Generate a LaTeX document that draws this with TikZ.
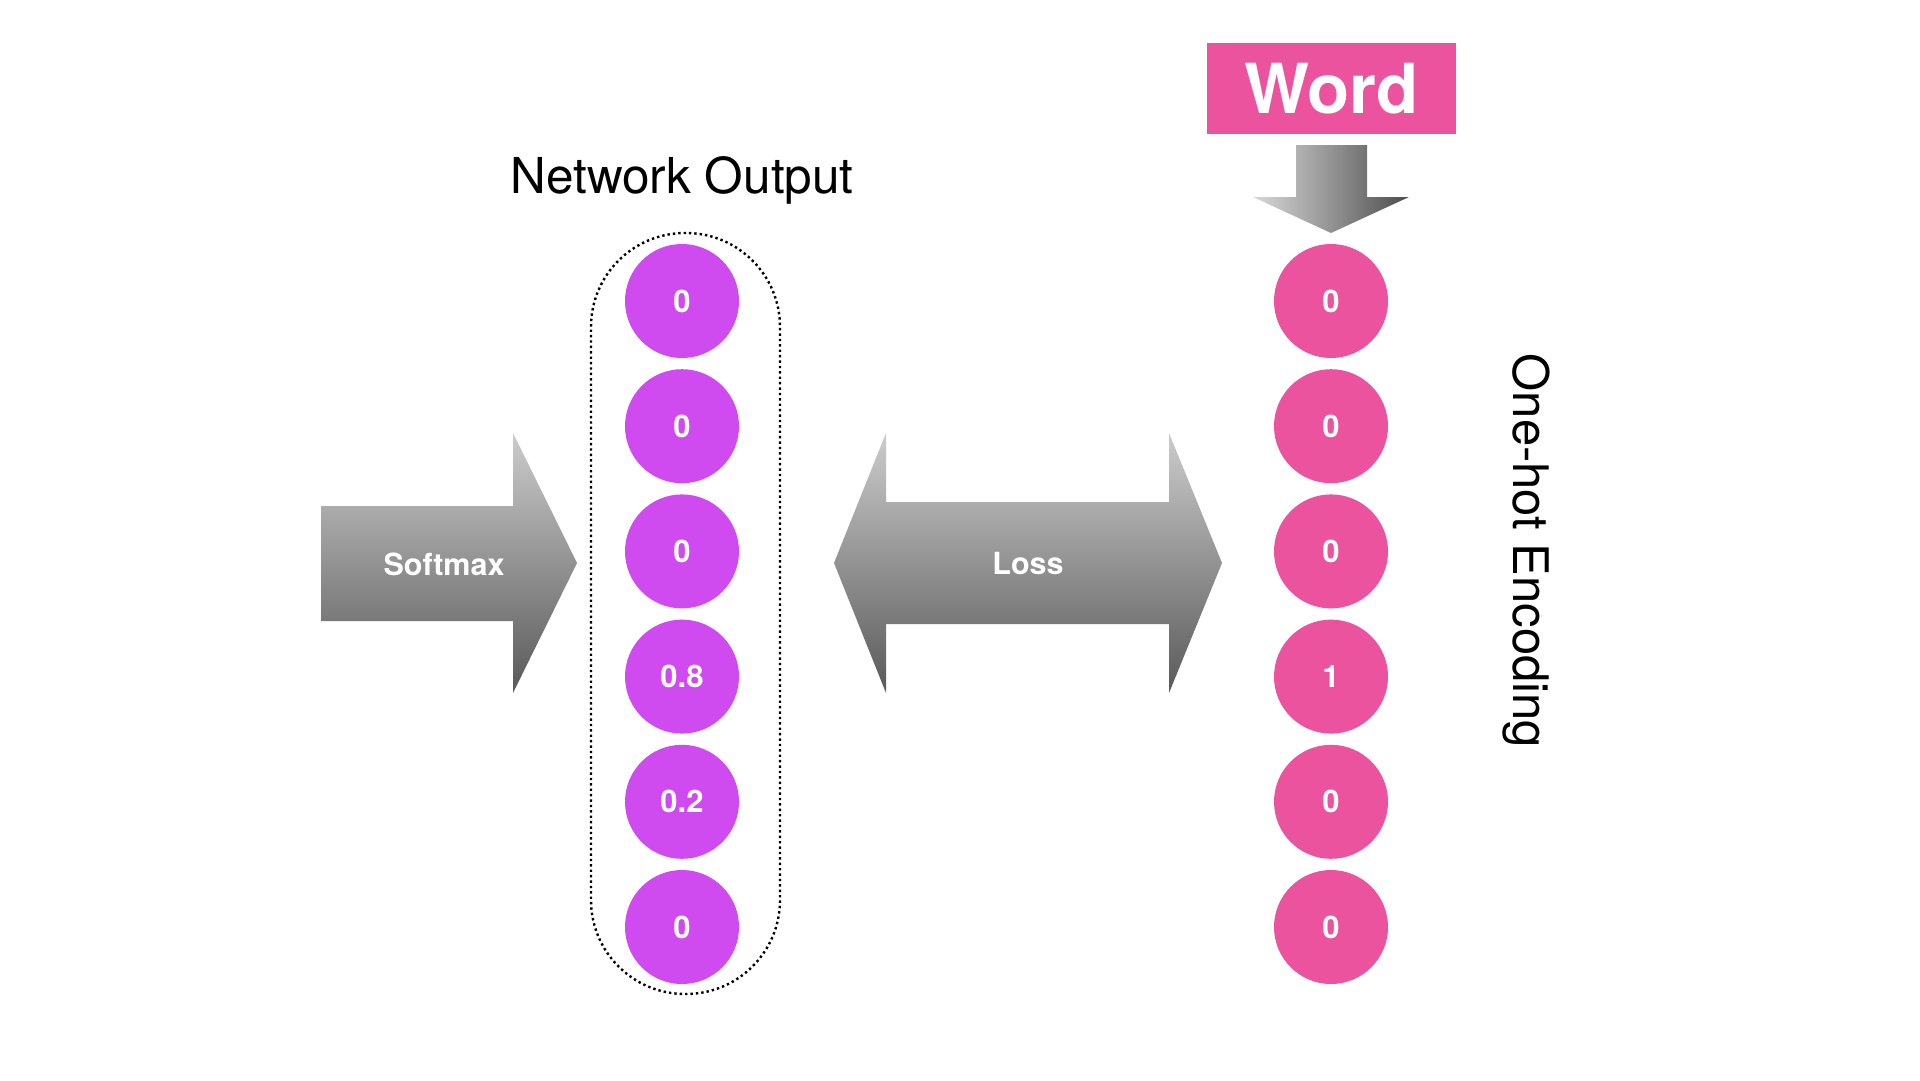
\documentclass[tikz,border=0pt]{standalone}
\usepackage{fontspec}
\setmainfont{TeX Gyre Heros}
\usetikzlibrary{shapes.geometric, positioning}
\definecolor{outpurple}{RGB}{207,75,240}
\definecolor{hotpink}{RGB}{236,83,158}
\tikzstyle{outcell} = [circle, minimum size=114pt, inner sep=0pt, fill=outpurple, text=white, font=\bfseries\fontsize{31}{36}\selectfont]
\tikzstyle{hotcell} = [circle, minimum size=114pt, inner sep=0pt, fill=hotpink, text=white, font=\bfseries\fontsize{31}{36}\selectfont]
\tikzstyle{bigarrow} = [top color=black!20, bottom color=black!65]
\tikzstyle{arrowlabel} = [anchor=base, text=white, font=\bfseries\fontsize{30.5}{36}\selectfont]

\begin{document}
\begin{tikzpicture}[x=1pt, y=-1pt, node distance=125.2pt]
\useasboundingbox (0,0) rectangle (1920,1080);
\fill[white] (0,0) rectangle (1920,1080);

%Network output
\node (out_title) [anchor=base, font=\fontsize{49.5}{58}\selectfont] at (682,193) {Network Output};
\node (out_frame) [rectangle, rounded corners=94pt, minimum width=189pt, minimum height=761pt, draw=black, line width=2.4pt, dash pattern=on 2.4pt off 3pt] at (685.5,613.5) {};
\node (out_1) [outcell] at (682,301) {0};
\node (out_2) [outcell, below of=out_1] {0};
\node (out_3) [outcell, below of=out_2] {0};
\node (out_4) [outcell, below of=out_3] {0.8};
\node (out_5) [outcell, below of=out_4] {0.2};
\node (out_6) [outcell, below of=out_5] {0};

%One-hot encoding
\node (word) [rectangle, minimum width=249pt, minimum height=91pt, fill=hotpink, text=white, font=\bfseries\fontsize{69}{80}\selectfont] at (1331.5,88.5) {Word};
\node (hot_1) [hotcell] at (1331,301) {0};
\node (hot_2) [hotcell, below of=hot_1] {0};
\node (hot_3) [hotcell, below of=hot_2] {0};
\node (hot_4) [hotcell, below of=hot_3] {1};
\node (hot_5) [hotcell, below of=hot_4] {0};
\node (hot_6) [hotcell, below of=hot_5] {0};
\node (hot_title) [anchor=base, rotate=-90, font=\fontsize{49}{58}\selectfont] at (1513,551) {One-hot Encoding};

%Arrows
\shade [left color=black!15, right color=black!70] (1296,145) -- (1367,145) -- (1367,197) -- (1409,197) -- (1331,233) -- (1253,197) -- (1296,197) -- cycle;
\shade [bigarrow] (321,506) -- (513,506) -- (513,433) -- (577,563) -- (513,693) -- (513,621) -- (321,621) -- cycle;
\shade [bigarrow] (834,563) -- (886,433) -- (886,502) -- (1169,502) -- (1169,433) -- (1222,563) -- (1169,693) -- (1169,624) -- (886,624) -- (886,693) -- cycle;
\node (softmax) [arrowlabel] at (444,575) {Softmax};
\node (loss) [arrowlabel] at (1028,574) {Loss};

\end{tikzpicture}
\end{document}
